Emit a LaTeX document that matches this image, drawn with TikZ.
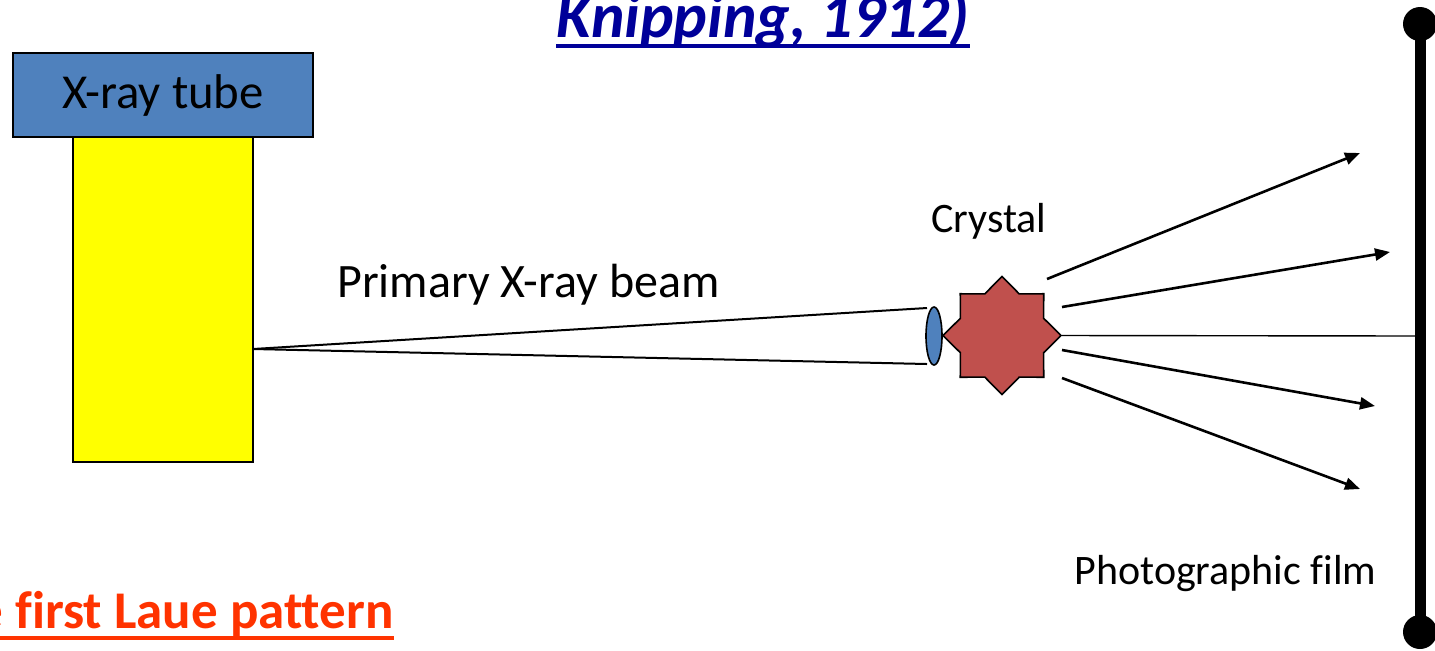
\documentclass[tikz,border=0pt]{standalone}
\usepackage{fontspec}
\setmainfont{Carlito}[Ligatures=CommonOff]
\usetikzlibrary{positioning,shapes.geometric,arrows.meta}
\definecolor{lwblue}{HTML}{4F81BD}
\definecolor{lwred}{HTML}{C0504D}
\definecolor{lwyellow}{HTML}{FFFF00}
\definecolor{lwnavy}{HTML}{000099}
\definecolor{lworange}{HTML}{FF3300}

\begin{document}
\begin{tikzpicture}[x=0.5pt,y=-0.5pt,
    lab/.style={inner sep=0,anchor=base west,font=\fontsize{21}{24}\selectfont},
    ray/.style={line width=1.3pt,-{Triangle[length=7.5pt,width=6pt]}},
    beam/.style={line width=1pt}]
  \useasboundingbox (0,0) rectangle (1435,650);
  \clip (0,0) rectangle (1435,650);
  % headings, cut by the page edge
  \node[inner sep=0,anchor=base east,text=lwnavy,font=\fontsize{31.8}{36}\selectfont\bfseries\itshape] (title) at (970,37) {Knipping, 1912)};
  \draw[lwnavy,line width=2pt] ([yshift=-4.5pt]title.base west) -- ([yshift=-4.5pt]title.base east);
  \node[inner sep=0,anchor=base east,text=lworange,font=\fontsize{26.5}{30}\selectfont\bfseries] (laue) at (394,628) {e first Laue pattern};
  \draw[lworange,line width=2pt] ([yshift=-5pt]laue.base west) -- ([yshift=-5pt]laue.base east);
  % source
  \node[draw,line width=1pt,fill=lwyellow,minimum width=90pt,minimum height=162.5pt] (tube) at (163,299.5) {};
  \node[draw,line width=1pt,fill=lwblue,minimum width=150pt,minimum height=42pt,font=\fontsize{24.4}{28}\selectfont] (head) at (163,95) {X-ray tube};
  % crystal and pinhole
  \node[ellipse,draw,line width=0.8pt,fill=lwblue,minimum width=8pt,minimum height=29pt,inner sep=0] (lens) at (934,336) {};
  \node[star,star points=8,star point ratio=1.31,draw,line width=0.8pt,fill=lwred,minimum size=59pt,inner sep=0] (crystal) at (1002,335.5) {};
  \node[lab] (crystallab) at (931,232) {Crystal};
  % primary beam
  \coordinate (src) at (253,349);
  \coordinate (beamtop) at (927,308);
  \coordinate (beambot) at (927,364);
  \draw[beam] (src) -- (beamtop);
  \draw[beam] (src) -- (beambot);
  \node[lab,font=\fontsize{24}{28}\selectfont] (beamlab) at (337,297) {Primary X-ray beam};
  % film
  \coordinate (filmtop) at (1420,24);
  \coordinate (filmbot) at (1420,632);
  \coordinate (filmmid) at (1420,336);
  \draw[line width=5.5pt] (filmtop) -- (filmbot);
  \fill (filmtop) circle[radius=8.5pt];
  \fill (filmbot) circle[radius=8.5pt];
  \node[lab] (filmlab) at (1074,584) {Photographic film};
  % diffracted rays
  \draw[line width=0.7pt] (crystal.east) -- (filmmid);
  \foreach \i/\sx/\sy/\ex/\ey in {1/1047/279/1360/153, 2/1062/307/1390/252,
      3/1062/350/1375/406, 4/1062/378/1360/489}
    {\coordinate (rs\i) at (\sx,\sy);
     \coordinate (re\i) at (\ex,\ey);
     \draw[ray] (rs\i) -- (re\i);}
\end{tikzpicture}
\end{document}
